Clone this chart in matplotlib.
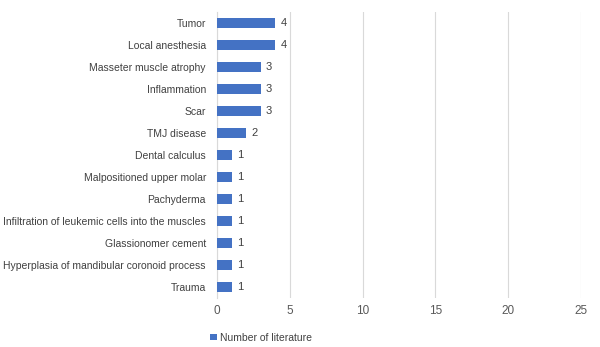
import matplotlib.pyplot as plt

categories = ["Tumor", "Local anesthesia", "Masseter muscle atrophy", "Inflammation",
              "Scar", "TMJ disease", "Dental calculus", "Malpositioned upper molar",
              "Pachyderma", "Infiltration of leukemic cells into the muscles",
              "Glassionomer cement", "Hyperplasia of mandibular coronoid process", "Trauma"]
counts = [4, 4, 3, 3, 3, 2, 1, 1, 1, 1, 1, 1, 1]
xticks = [0, 5, 10, 15, 20, 25]

plt.rcParams['font.family'] = ['Liberation Sans', 'DejaVu Sans']
plt.rcParams['font.size'] = 7.5

fig = plt.figure(figsize=(6, 3.47), dpi=100)
ax = fig.add_axes([0.3617, 0.1412, 0.6066, 0.8242])

ypos = list(range(len(categories)))
bars = ax.barh(ypos, counts, height=0.45, color='#4472C4', label='Number of literature', zorder=3)
for y, v in zip(ypos, counts):
    ax.text(v + 0.35, y, str(v), va='center', ha='left', color='#404040', fontsize=8)

ax.set_yticks(ypos)
ax.set_yticklabels(categories, color='#404040')
ax.set_ylim(len(categories) - 0.5, -0.5)
ax.set_xlim(0, 25)
ax.set_xticks(xticks)
ax.tick_params(axis='x', colors='#595959', length=0, pad=5, labelsize=8.5)
ax.tick_params(axis='y', length=0, pad=8)
ax.grid(axis='x', color='#D9D9D9', linewidth=0.8, zorder=0)
for s in ['top', 'right', 'bottom']:
    ax.spines[s].set_visible(False)
ax.spines['left'].set_color('#D9D9D9')

fig.legend(loc='lower left', bbox_to_anchor=(0.335, -0.015), frameon=False,
           handlelength=0.6, handleheight=0.6, handletextpad=0.3, labelcolor='#404040')

fig.savefig('out.png', dpi=100)
